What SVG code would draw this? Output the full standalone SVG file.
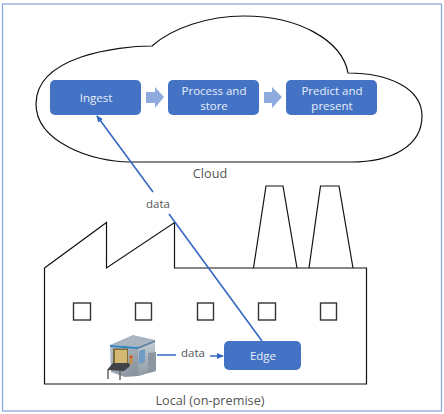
<svg xmlns="http://www.w3.org/2000/svg" width="444" height="414" viewBox="0 0 444 414">
<style>
.o{fill:none;stroke:#111;stroke-width:1.2}
.w{fill:#fff;stroke:#333;stroke-width:1.4}
.b{fill:#4472c4;stroke:none}
.t{font-family:"Open Sans","Noto Sans","Liberation Sans",sans-serif;font-size:11.5px;text-anchor:middle}
.l{font-size:12.700px}
.tw{fill:#e8eefa}.td{fill:#555}
.c{fill:none;stroke:#3668c4;stroke-width:1.6}
.ba{fill:#8faadc}
</style>
<defs>
<marker id="a" markerWidth="8" markerHeight="7" refX="6" refY="3" orient="auto" markerUnits="userSpaceOnUse"><path d="M0 0L7 3L0 6Z" fill="#3668c4"/></marker>
<linearGradient id="f" x1="0" y1="0" x2="1" y2="1"><stop offset="0" stop-color="#b9c3cd"/><stop offset="1" stop-color="#76828e"/></linearGradient>
<linearGradient id="s" x1="0" y1="0" x2="0" y2="1"><stop offset="0" stop-color="#c6ced6"/><stop offset="1" stop-color="#8e99a4"/></linearGradient>
</defs>
<rect x="2.500" y="4" width="439" height="407" fill="#fff" stroke="#8faadc" stroke-width="1.300"/>
<g id="cloud-shape"><path class="o" d="M152 46C118 46 36 56 36 104C36 142 92 162 130 162L351 162C392 162 422 146 422 116C422 88 388 73 348 73C342 40 298 16 244 16C208 16 172 28 152 46Z"/></g>
<g id="factory"><path class="o" d="M44.500 268L106.500 222.500V268L174.500 222.500V268H366.500V384H44.500Z"/>
<path class="o" d="M253.500 268L266 186H283L297 268M309 268L320.500 186H339L353 268"/></g>
<g id="windows"><rect class="w" x="73.500" y="303" width="17" height="17"/><rect class="w" x="135.500" y="303" width="16" height="17"/><rect class="w" x="197.500" y="303" width="16" height="17"/><rect class="w" x="258.500" y="303" width="17" height="17"/><rect class="w" x="320.500" y="303" width="16" height="17"/></g>
<g id="ingest"><rect class="b" x="50" y="80" width="91" height="35" rx="5"/><text class="t tw" x="96" y="102">Ingest</text></g>
<g id="process"><rect class="b" x="168" y="80" width="91" height="35" rx="5"/><text class="t tw" x="214" y="95">Process and</text><text class="t tw" x="214" y="110">store</text></g>
<g id="predict"><rect class="b" x="286" y="80" width="91" height="35" rx="5"/><text class="t tw" x="332" y="95">Predict and</text><text class="t tw" x="332" y="110">present</text></g>
<g id="edge"><rect class="b" x="224" y="341" width="77" height="29" rx="5"/><text class="t tw" x="263" y="360">Edge</text></g>
<g id="machine">
<path d="M110 345L138 347L155 341V371L138 376L125 377L111 372Z" fill="url(#f)"/>
<path d="M138 347L155 341V371L138 376Z" fill="url(#s)"/>
<path d="M110 345L133 335L155 340L138 347Z" fill="#a9b4c0"/>
<path d="M110 345L138 347V349L110 347Z" fill="#2e86c1"/>
<path d="M138 347L155 340V342L138 349Z" fill="#5f7f9f"/>
<rect x="113" y="348.500" width="15" height="15" fill="#7a6a3a"/>
<path d="M115 350H127V363H115Z" fill="#d2b872"/>
<path d="M139 351L145 349V362L139 364Z" fill="#6f9cc4"/>
<rect x="129" y="355" width="4" height="9" fill="#b9935a"/>
<rect x="130" y="356" width="2" height="2" fill="#d8392b"/>
<path d="M148 353L156 352V371L148 373Z" fill="#8c96a0"/>
<path d="M107 370L113 363H129L130 366L124 371Z" fill="#3f4246"/>
<path d="M108 370V379M120 371V380" stroke="#666" stroke-width="1.500" fill="none"/>
</g>
<g id="connectors">
<path class="c" d="M157 355H176M210 356H223" marker-end="url(#a)"/>
<path class="c" d="M262 341L169 214M153 192L97 116" marker-end="url(#a)"/>
</g>
<g id="flow-arrows"><path class="ba" d="M146 92H155V87L164 97L155 108V103H146Z"/><path class="ba" d="M264 92H272V87L282 97L272 108V103H264Z"/></g>
<g id="labels"><text class="t td l" x="210" y="178">Cloud</text><text class="t td" x="158" y="208">data</text><text class="t td" x="193" y="357">data</text><text class="t td l" x="210" y="405">Local (on-premise)</text></g>
</svg>
